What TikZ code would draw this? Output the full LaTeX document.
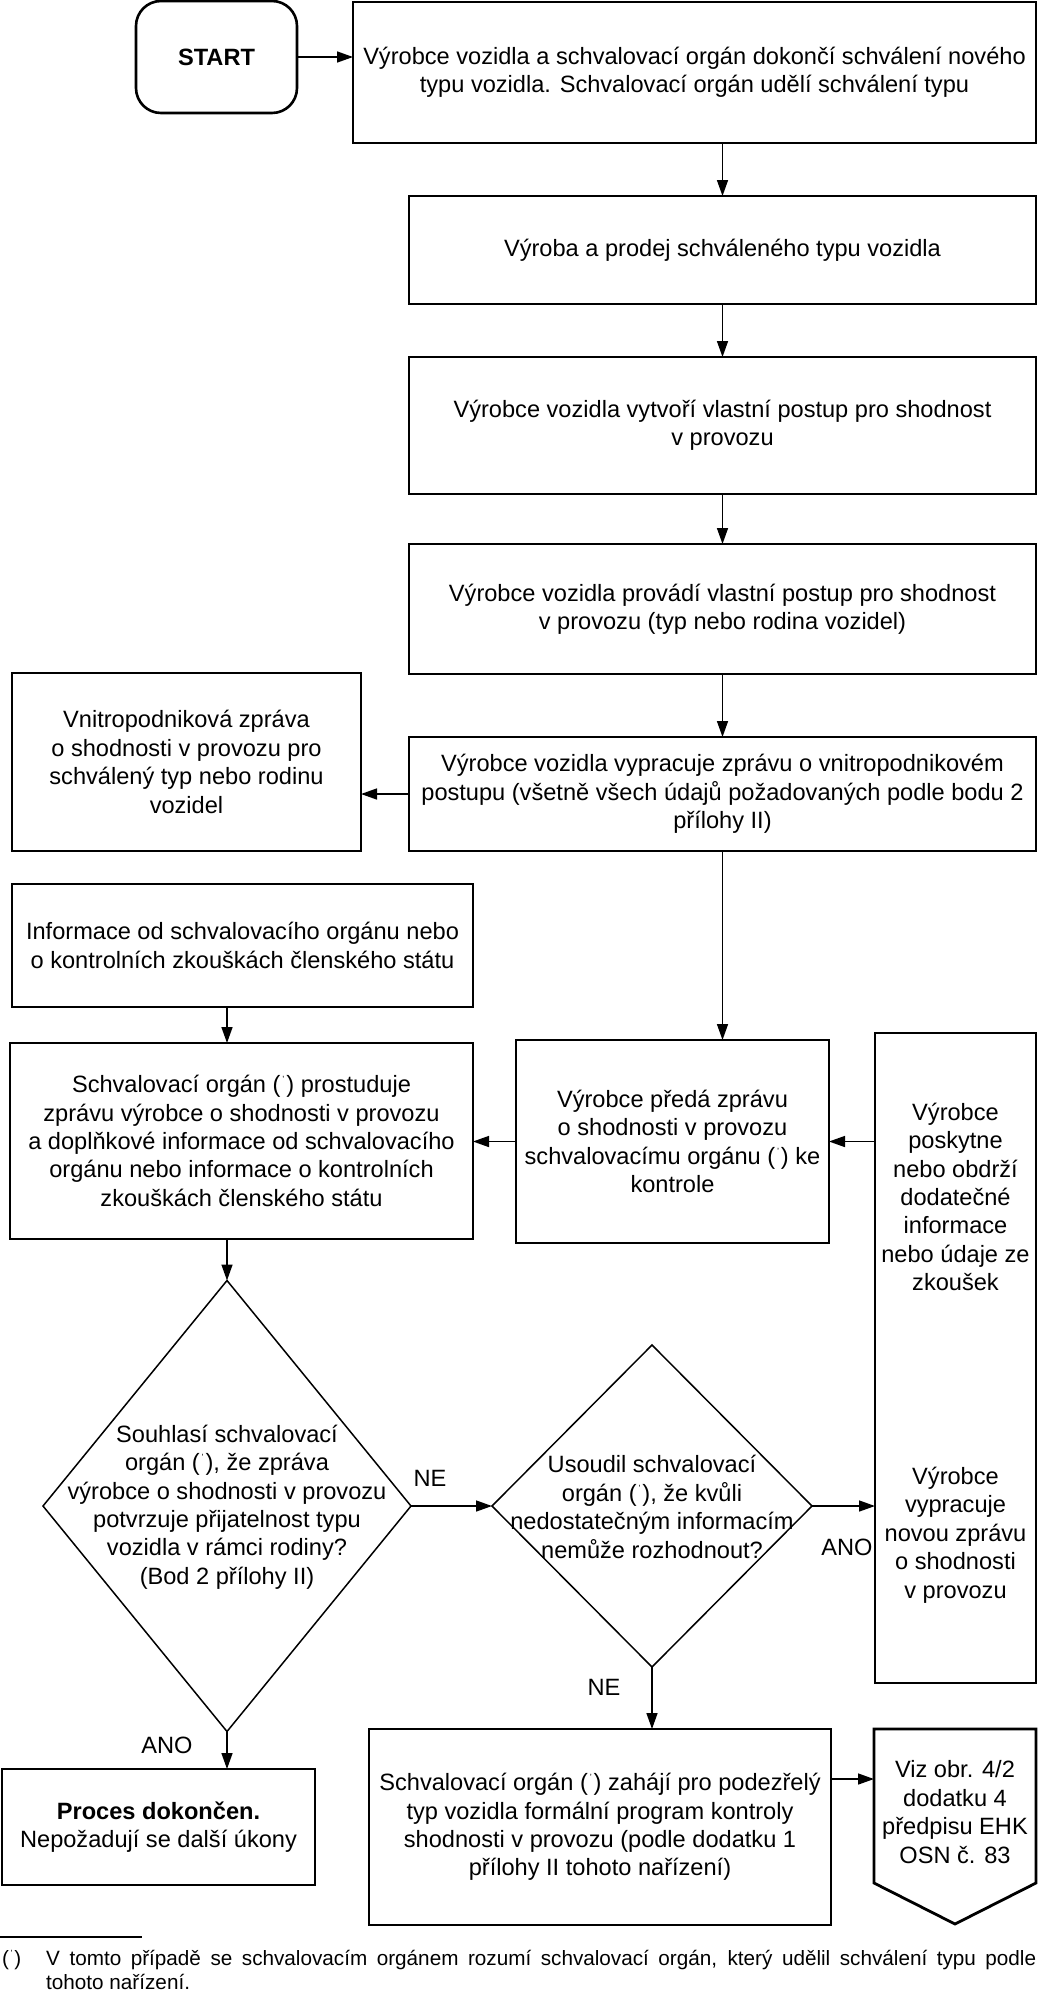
\documentclass[tikz,border=0pt]{standalone}
\usepackage{fontspec}
\setmainfont{Liberation Sans}
\usetikzlibrary{arrows.meta,shapes.geometric}
\newcommand{\mf}{\fontsize{23.6}{28.4}\selectfont}
\newcommand{\fnf}{\fontsize{20.7}{24}\selectfont}
\newcommand{\pmk}{(\kern0.08em\raisebox{0.42em}{\fontsize{9}{9}\selectfont ’}\kern0.08em)}
\begin{document}
\begin{tikzpicture}[x=1pt,y=-1pt,
  box/.style={draw, line width=1.5pt, inner sep=0pt, outer sep=0pt, align=center, font=\mf},
  thickbox/.style={box, line width=2.8pt},
  txt/.style={inner sep=0pt, outer sep=0pt, align=center, font=\mf},
  arr/.style={-{Triangle[length=16pt,width=11pt]}, line width=1.5pt},
  lbl/.style={inner sep=0pt, font=\mf},
  dia/.style={diamond, draw, line width=1.5pt, inner sep=0pt, outer sep=0pt}]
\useasboundingbox (0,0) rectangle (1038,1990);

\node[box, rounded corners=25pt, line width=2.6pt, minimum width=161pt, minimum height=112pt, font=\mf\bfseries] (start) at (216.5,57) {START};

\node[box, minimum width=683pt, minimum height=141pt] (b1) at (694.5,72.5)
  {Výrobce vozidla a schvalovací orgán dokončí schválení nového\\typu vozidla. Schvalovací orgán udělí schválení typu};
\node[box, minimum width=627pt, minimum height=108pt] (b2) at (722.5,250)
  {Výroba a prodej schváleného typu vozidla};
\node[box, minimum width=627pt, minimum height=137pt] (b3) at (722.5,425.5)
  {Výrobce vozidla vytvoří vlastní postup pro shodnost\\v provozu};
\node[box, minimum width=627pt, minimum height=130pt] (b4) at (722.5,609)
  {Výrobce vozidla provádí vlastní postup pro shodnost\\v provozu (typ nebo rodina vozidel)};
\node[box, minimum width=627pt, minimum height=114pt] (b5) at (722.5,794)
  {Výrobce vozidla vypracuje zprávu o vnitropodnikovém\\postupu (všetně všech údajů požadovaných podle bodu 2\\přílohy II)};
\node[box, minimum width=349pt, minimum height=178pt] (l1) at (186.5,762)
  {Vnitropodniková zpráva\\o shodnosti v provozu pro\\schválený typ nebo rodinu\\vozidel};
\node[box, minimum width=461pt, minimum height=123pt] (info) at (242.5,945.5)
  {Informace od schvalovacího orgánu nebo\\o kontrolních zkouškách členského státu};
\node[box, minimum width=463pt, minimum height=196pt] (so) at (241.5,1141)
  {Schvalovací orgán \pmk{} prostuduje\\zprávu výrobce o shodnosti v provozu\\a doplňkové informace od schvalovacího\\orgánu nebo informace o kontrolních\\zkouškách členského státu};
\node[box, minimum width=313pt, minimum height=203pt] (vp) at (672.5,1141.5)
  {Výrobce předá zprávu\\o shodnosti v provozu\\schvalovacímu orgánu \pmk{} ke\\kontrole};
\node[box, minimum width=161pt, minimum height=650pt] (tall) at (955.5,1358) {};
\node[txt] (tallup) at (955.5,1197)
  {Výrobce\\poskytne\\nebo obdrží\\dodatečné\\informace\\nebo údaje ze\\zkoušek};
\node[txt] (tallnew) at (955.5,1535)
  {Výrobce\\vypracuje\\novou zprávu\\o shodnosti\\v provozu};

\node[dia, minimum width=368pt, minimum height=451pt] (d1) at (227,1506) {};
\node[txt] (d1t) at (227,1507)
  {Souhlasí schvalovací\\orgán \pmk, že zpráva\\výrobce o shodnosti v provozu\\potvrzuje přijatelnost typu\\vozidla v rámci rodiny?\\(Bod 2 přílohy II)};
\node[dia, minimum width=320pt, minimum height=322pt] (d2) at (652,1506) {};
\node[txt] (d2t) at (652,1507)
  {Usoudil schvalovací\\orgán \pmk, že kvůli\\nedostatečným informacím\\nemůže rozhodnout?};

\node[thickbox, minimum width=313pt, minimum height=116pt] (proc) at (158.5,1827)
  {\textbf{Proces dokončen.}\\Nepožadují se další úkony};
\node[box, minimum width=462pt, minimum height=196pt] (zf) at (600,1827)
  {Schvalovací orgán \pmk{} zahájí pro podezřelý\\typ vozidla formální program kontroly\\shodnosti v provozu (podle dodatku 1\\přílohy II tohoto nařízení)};
\node[inner sep=0pt, outer sep=0pt, minimum width=162pt, minimum height=154pt] (pent) at (955,1806) {};
\draw[line width=2.8pt, line join=miter] (pent.north west) -- (pent.north east) -- (pent.south east)
  -- ([yshift=-41pt]pent.south) -- (pent.south west) -- cycle;
\node[txt] (pentt) at (955,1812) {Viz obr. 4/2\\dodatku 4\\předpisu EHK\\OSN č. 83};

% connectors
\draw[arr] (start.east) -- (start.east -| b1.west);
\draw[arr] (b1.south -| b2.north) -- (b2.north);
\draw[arr] (b2.south) -- (b3.north);
\draw[arr] (b3.south) -- (b4.north);
\draw[arr] (b4.south) -- (b5.north);
\draw[arr] (b5.west) -- (b5.west -| l1.east);
\draw[arr] (b5.south) -- (b5.south |- vp.north);
\draw[arr] (info.south -| d1.north) -- (so.north -| d1.north);
\draw[arr] (vp.west) -- (vp.west -| so.east);
\draw[arr] (tall.west |- vp.east) -- (vp.east);
\draw[arr] (so.south -| d1.north) -- (d1.north);
\draw[arr] (d1.east) -- (d2.west);
\draw[arr] (d2.east) -- (d2.east -| tall.west);
\draw[arr] (d1.south) -- (d1.south |- proc.north);
\draw[arr] (d2.south) -- (d2.south |- zf.north);
\draw[arr] ([yshift=48pt]zf.east) -- ([yshift=48pt]zf.east -| pent.west);

\node[lbl] (ne1) at (430,1478) {NE};
\node[lbl] (ano1) at (847,1547) {ANO};
\node[lbl] (ano2) at (167,1745) {ANO};
\node[lbl] (ne2) at (604,1687) {NE};

% footnote
\draw[line width=1.2pt] (0,1937) -- (142,1937);
\node[anchor=base west, inner sep=0pt, font=\fnf] (fnm) at (2,1965) {\pmk};
\node[anchor=base west, inner sep=0pt, font=\fnf] (fn1) at (46,1965)
  {\makebox[990pt][s]{V tomto případě se schvalovacím orgánem rozumí schvalovací orgán, který udělil schválení typu podle}};
\node[anchor=base west, inner sep=0pt, font=\fnf] (fn2) at (46,1989) {tohoto nařízení.};
\end{tikzpicture}
\end{document}
